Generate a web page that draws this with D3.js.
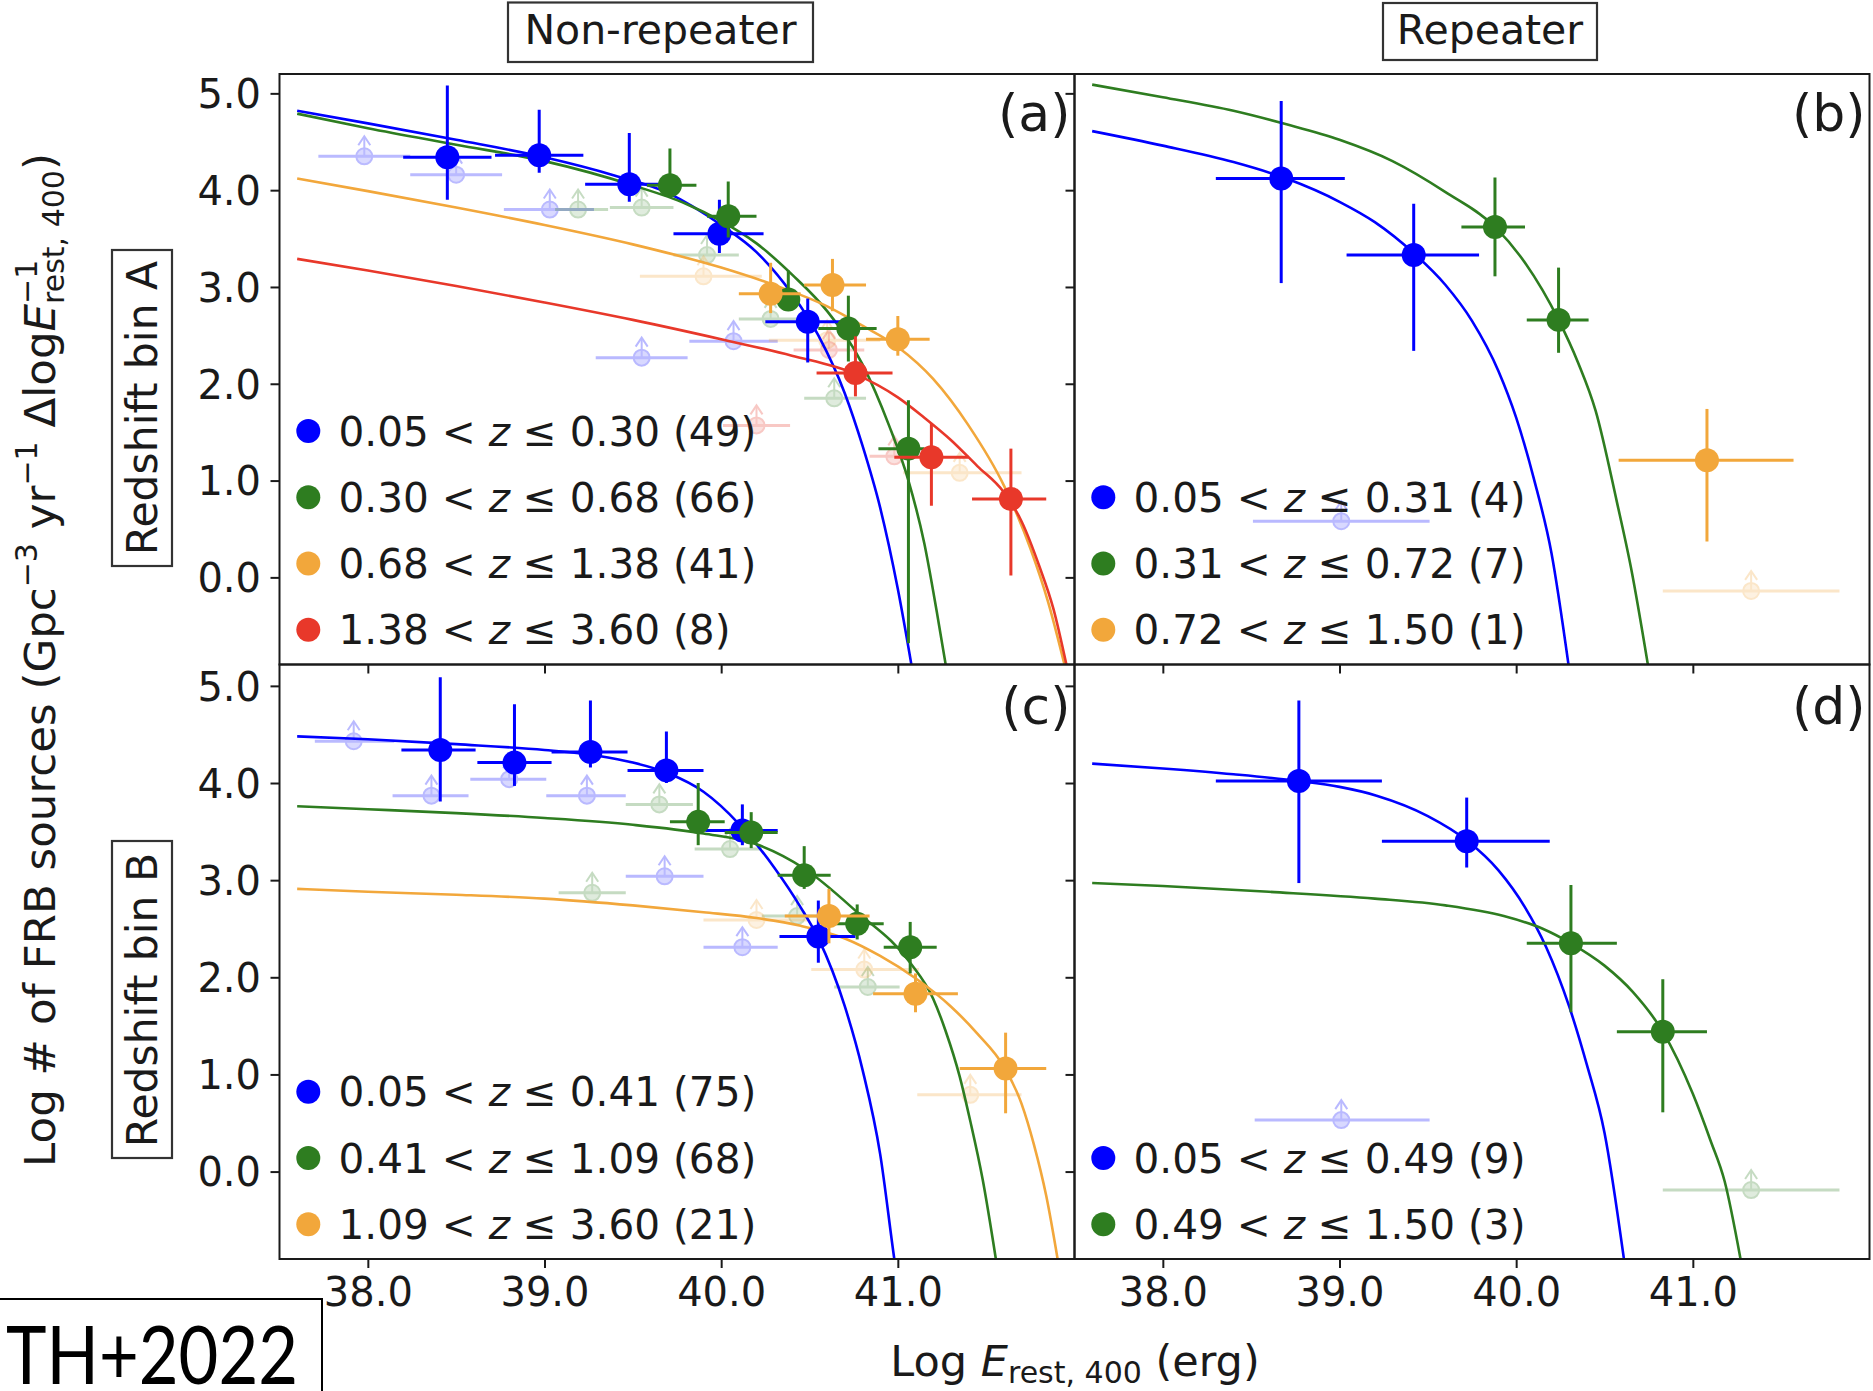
<!DOCTYPE html>
<html>
<head>
<meta charset="utf-8">
<script src="https://cdn.jsdelivr.net/npm/d3@7"></script>
<style>
  html, body { margin: 0; padding: 0; background: #fff; }
  svg { display: block; font-family: "DejaVu Sans", sans-serif; }
  text { white-space: pre; }
</style>
</head>
<body>
<svg id="fig" width="1873" height="1391"></svg>
<script>
// ---------------- axes ----------------
const xTicks = [38, 39, 40, 41];
const yTicks = [0, 1, 2, 3, 4, 5];
const xDomain = [37.5, 42.0];
const yDomainTop = [-0.9, 5.2];
const yDomainBottom = [-0.9, 5.22];

const columnTitles = ["Non-repeater", "Repeater"];
const rowTitles = ["Redshift bin A", "Redshift bin B"];
const panelLetters = ["(a)", "(b)", "(c)", "(d)"];

// ---------------- legend bins: [z low, z high, number of sources] ----------------
const aBins = [["0.05", "0.30", 49], ["0.30", "0.68", 66], ["0.68", "1.38", 41], ["1.38", "3.60", 8]];
const bBins = [["0.05", "0.31", 4], ["0.31", "0.72", 7], ["0.72", "1.50", 1]];
const cBins = [["0.05", "0.41", 75], ["0.41", "1.09", 68], ["1.09", "3.60", 21]];
const dBins = [["0.05", "0.49", 9], ["0.49", "1.50", 3]];

// ---------------- measured points: [logE, logN, logE low, logE high, logN low, logN high] ----------------
const aBluePts = [
  [38.45, 4.34, 38.20, 38.70, 3.90, 5.08],
  [38.97, 4.36, 38.72, 39.22, 4.18, 4.83],
  [39.48, 4.06, 39.23, 39.69, 3.88, 4.59],
  [39.99, 3.55, 39.73, 40.24, 3.35, 3.90],
  [40.49, 2.64, 40.25, 40.75, 2.22, 2.88]
];
const aGreenPts = [
  [39.71, 4.05, 39.58, 39.86, 3.92, 4.43],
  [40.04, 3.73, 39.92, 40.20, 3.51, 4.09],
  [40.38, 2.87, 40.33, 40.43, 2.77, 3.17],
  [40.72, 2.57, 40.55, 40.88, 2.23, 2.91],
  [41.06, 1.33, 40.89, 41.15, -0.68, 1.83]
];
const aOrangePts = [
  [40.28, 2.93, 40.10, 40.45, 2.73, 3.25],
  [40.63, 3.02, 40.47, 40.82, 2.75, 3.29],
  [41.00, 2.46, 40.82, 41.18, 2.29, 2.70]
];
const aRedPts = [
  [40.76, 2.11, 40.54, 40.97, 1.87, 2.49],
  [41.19, 1.24, 40.98, 41.40, 0.74, 1.59],
  [41.64, 0.81, 41.42, 41.84, 0.02, 1.33]
];
const bBluePts = [
  [38.67, 4.12, 38.30, 39.03, 3.04, 4.92],
  [39.42, 3.33, 39.04, 39.79, 2.34, 3.86]
];
const bGreenPts = [
  [39.88, 3.62, 39.69, 40.05, 3.11, 4.13],
  [40.24, 2.66, 40.06, 40.41, 2.32, 3.20]
];
const bOrangePts = [
  [41.08, 1.21, 40.58, 41.57, 0.37, 1.74]
];
const cBluePts = [
  [38.41, 4.34, 38.19, 38.61, 3.81, 5.09],
  [38.83, 4.21, 38.62, 39.04, 3.97, 4.81],
  [39.26, 4.32, 39.04, 39.47, 4.16, 4.85],
  [39.69, 4.13, 39.47, 39.90, 4.00, 4.53],
  [40.12, 3.51, 39.91, 40.32, 3.36, 3.78],
  [40.55, 2.42, 40.33, 40.76, 2.15, 2.79]
];
const cGreenPts = [
  [39.87, 3.60, 39.71, 40.02, 3.36, 4.00],
  [40.17, 3.49, 40.02, 40.32, 3.33, 3.70],
  [40.47, 3.05, 40.32, 40.62, 2.91, 3.35],
  [40.77, 2.55, 40.62, 40.92, 2.39, 2.75],
  [41.07, 2.31, 40.92, 41.22, 2.04, 2.57]
];
const cOrangePts = [
  [40.61, 2.63, 40.36, 40.84, 2.35, 2.91],
  [41.10, 1.83, 40.86, 41.34, 1.64, 2.04],
  [41.61, 1.06, 41.35, 41.84, 0.60, 1.43]
];
const dBluePts = [
  [38.77, 4.02, 38.30, 39.24, 2.97, 4.85],
  [39.72, 3.40, 39.24, 40.19, 3.13, 3.85]
];
const dGreenPts = [
  [40.31, 2.35, 40.06, 40.57, 1.64, 2.95],
  [40.83, 1.44, 40.57, 41.08, 0.61, 1.98]
];

// ---------------- lower limits: [logE, logN, logE low, logE high] ----------------
const aBlueLim = [
  [37.98, 4.35, 37.72, 38.24],
  [38.50, 4.16, 38.24, 38.76],
  [39.03, 3.80, 38.77, 39.28],
  [39.55, 2.27, 39.29, 39.81],
  [40.07, 2.44, 39.82, 40.32]
];
const aGreenLim = [
  [39.19, 3.80, 39.06, 39.36],
  [39.55, 3.82, 39.37, 39.73],
  [39.92, 3.33, 39.73, 40.10],
  [40.28, 2.67, 40.10, 40.47],
  [40.64, 1.85, 40.47, 40.82]
];
const aOrangeLim = [
  [39.90, 3.11, 39.54, 40.23],
  [40.60, 2.45, 40.27, 40.90],
  [41.35, 1.08, 41.03, 41.70]
];
const aRedLim = [
  [40.20, 1.57, 40.01, 40.39],
  [40.61, 2.35, 40.41, 40.81],
  [40.98, 1.25, 40.84, 41.13]
];
const bBlueLim = [[39.01, 0.58, 38.51, 39.51]];
const bOrangeLim = [[41.33, -0.14, 40.83, 41.83]];
const cBlueLim = [
  [37.92, 4.43, 37.70, 38.15],
  [38.36, 3.87, 38.14, 38.57],
  [38.80, 4.04, 38.58, 39.01],
  [39.24, 3.87, 39.01, 39.46],
  [39.68, 3.04, 39.46, 39.90],
  [40.12, 2.31, 39.90, 40.32]
];
const cGreenLim = [
  [39.27, 2.87, 39.08, 39.46],
  [39.65, 3.78, 39.46, 39.84],
  [40.05, 3.32, 39.85, 40.23],
  [40.43, 2.63, 40.23, 40.61],
  [40.83, 1.90, 40.64, 41.01]
];
const cOrangeLim = [
  [40.20, 2.59, 39.90, 40.49],
  [40.81, 2.08, 40.51, 41.12],
  [41.41, 0.79, 41.11, 41.70]
];
const dBlueLim = [[39.01, 0.53, 38.52, 39.51]];
const dGreenLim = [[41.33, -0.19, 40.83, 41.83]];

// ---------------- best-fit energy functions: [logE, logN] ----------------
const aBlueFit = [[37.6,4.82],[38.0,4.69],[38.5,4.52],[39.0,4.34],[39.4,4.15],[39.7,3.97],[40.0,3.64],[40.2,3.36],[40.4,2.93],[40.55,2.50],[40.7,1.90],[40.8,1.36],[40.9,0.72],[41.0,-0.12],[41.1,-1.15]];
const aGreenFit = [[37.6,4.79],[38.0,4.64],[38.5,4.47],[39.0,4.30],[39.5,4.05],[39.8,3.86],[40.0,3.68],[40.2,3.45],[40.4,3.13],[40.6,2.75],[40.8,2.20],[40.95,1.57],[41.06,1.0],[41.15,0.35],[41.22,-0.35],[41.28,-1.0]];
const aOrangeFit = [[37.6,4.12],[38.0,3.99],[38.5,3.82],[39.0,3.64],[39.5,3.44],[40.0,3.20],[40.3,3.02],[40.6,2.80],[40.8,2.60],[41.0,2.38],[41.2,2.05],[41.4,1.57],[41.6,0.95],[41.75,0.30],[41.85,-0.25],[41.95,-0.95]];
const aRedFit = [[37.6,3.29],[38.0,3.17],[38.5,3.01],[39.0,2.84],[39.5,2.66],[40.0,2.46],[40.4,2.29],[40.76,2.10],[41.0,1.86],[41.15,1.65],[41.3,1.42],[41.45,1.15],[41.6,0.88],[41.7,0.58],[41.8,0.12],[41.88,-0.32],[41.96,-0.95]];
const bBlueFit = [[37.6,4.61],[38.0,4.46],[38.4,4.29],[38.7,4.12],[39.0,3.88],[39.2,3.67],[39.42,3.35],[39.6,3.02],[39.75,2.65],[39.9,2.13],[40.0,1.65],[40.1,1.02],[40.2,0.25],[40.3,-0.95]];
const bGreenFit = [[37.6,5.09],[38.0,4.96],[38.4,4.82],[38.7,4.68],[39.0,4.52],[39.3,4.30],[39.6,3.98],[39.88,3.62],[40.05,3.25],[40.24,2.66],[40.35,2.22],[40.45,1.72],[40.57,0.78],[40.65,0.10],[40.75,-0.95]];
const cBlueFit = [[37.6,4.48],[38.0,4.45],[38.5,4.40],[39.0,4.34],[39.3,4.28],[39.5,4.21],[39.7,4.10],[39.9,3.91],[40.1,3.58],[40.3,3.13],[40.45,2.72],[40.55,2.40],[40.7,1.70],[40.8,1.05],[40.9,0.18],[40.98,-0.9],[41.02,-1.4]];
const cGreenFit = [[37.6,3.76],[38.0,3.73],[38.5,3.69],[39.0,3.64],[39.5,3.57],[39.9,3.48],[40.2,3.37],[40.47,3.12],[40.77,2.67],[41.07,2.15],[41.2,1.78],[41.27,1.45],[41.35,0.98],[41.41,0.52],[41.48,-0.08],[41.56,-0.96]];
const cOrangeFit = [[37.6,2.91],[38.0,2.88],[38.5,2.85],[39.0,2.81],[39.5,2.74],[39.9,2.67],[40.2,2.61],[40.45,2.53],[40.7,2.40],[40.9,2.22],[41.1,1.99],[41.3,1.70],[41.45,1.42],[41.6,1.08],[41.7,0.70],[41.77,0.28],[41.84,-0.25],[41.91,-0.96]];
const dBlueFit = [[37.6,4.20],[38.0,4.15],[38.4,4.09],[38.77,4.02],[39.0,3.96],[39.21,3.87],[39.5,3.66],[39.72,3.41],[39.9,3.10],[40.05,2.72],[40.17,2.31],[40.3,1.70],[40.4,1.10],[40.5,0.40],[40.61,-0.9]];
const dGreenFit = [[37.6,2.97],[38.0,2.94],[38.6,2.88],[39.2,2.81],[39.6,2.74],[39.93,2.63],[40.15,2.50],[40.31,2.35],[40.5,2.12],[40.66,1.85],[40.83,1.44],[41.0,0.80],[41.1,0.32],[41.18,-0.10],[41.27,-0.9]];

// ---------------- styling ----------------
const COL = { blue: "#0000ff", green: "#2e7d20", orange: "#f2a73b", red: "#e8382a" };
const INK = "#1a1a1a";
const FS_TICK = 40, FS_LEG = 40.6, FS_LAB = 43.5;

const box = { left: 279.5, mid: 1074.5, right: 1869.5, top: 74, midY: 664.5, bottom: 1259 };

const panels = [
  { id: "a", x0: box.left, x1: box.mid, y0: box.top, y1: box.midY, yDom: yDomainTop,
    letter: panelLetters[0], letterDy: 56.5, yLabels: true, xLabels: false, bins: aBins,
    series: [
      { c: COL.blue, pts: aBluePts, lim: aBlueLim, fit: aBlueFit },
      { c: COL.green, pts: aGreenPts, lim: aGreenLim, fit: aGreenFit },
      { c: COL.orange, pts: aOrangePts, lim: aOrangeLim, fit: aOrangeFit },
      { c: COL.red, pts: aRedPts, lim: aRedLim, fit: aRedFit }
    ] },
  { id: "b", x0: box.mid, x1: box.right, y0: box.top, y1: box.midY, yDom: yDomainTop,
    letter: panelLetters[1], letterDy: 56.5, yLabels: false, xLabels: false, bins: bBins,
    series: [
      { c: COL.blue, pts: bBluePts, lim: bBlueLim, fit: bBlueFit },
      { c: COL.green, pts: bGreenPts, lim: [], fit: bGreenFit },
      { c: COL.orange, pts: bOrangePts, lim: bOrangeLim, fit: null }
    ] },
  { id: "c", x0: box.left, x1: box.mid, y0: box.midY, y1: box.bottom, yDom: yDomainBottom,
    letter: panelLetters[2], letterDy: 59, yLabels: true, xLabels: true, bins: cBins,
    series: [
      { c: COL.blue, pts: cBluePts, lim: cBlueLim, fit: cBlueFit },
      { c: COL.green, pts: cGreenPts, lim: cGreenLim, fit: cGreenFit },
      { c: COL.orange, pts: cOrangePts, lim: cOrangeLim, fit: cOrangeFit }
    ] },
  { id: "d", x0: box.mid, x1: box.right, y0: box.midY, y1: box.bottom, yDom: yDomainBottom,
    letter: panelLetters[3], letterDy: 59, yLabels: false, xLabels: true, bins: dBins,
    series: [
      { c: COL.blue, pts: dBluePts, lim: dBlueLim, fit: dBlueFit },
      { c: COL.green, pts: dGreenPts, lim: dGreenLim, fit: dGreenFit }
    ] }
];

const svg = d3.select("#fig");
const defs = svg.append("defs");

panels.forEach(p => {
  const x = d3.scaleLinear().domain(xDomain).range([p.x0, p.x1]);
  const y = d3.scaleLinear().domain(p.yDom).range([p.y1, p.y0]);
  const g = svg.append("g").attr("class", "panel-" + p.id);

  const clipId = "clip-" + p.id;
  defs.append("clipPath").attr("id", clipId)
    .append("rect").attr("x", p.x0).attr("y", p.y0)
    .attr("width", p.x1 - p.x0).attr("height", p.y1 - p.y0);
  const plot = g.append("g").attr("clip-path", `url(#${clipId})`);

  // lower limits (faint, with upward arrows)
  p.series.forEach(s => {
    const lg = plot.append("g").attr("opacity", 0.27);
    s.lim.forEach(d => {
      const cx = x(d[0]), cy = y(d[1]);
      lg.append("line").attr("x1", x(d[2])).attr("x2", x(d[3]))
        .attr("y1", cy).attr("y2", cy).attr("stroke", s.c).attr("stroke-width", 3);
      lg.append("line").attr("x1", cx).attr("x2", cx)
        .attr("y1", cy).attr("y2", cy - 19).attr("stroke", s.c).attr("stroke-width", 2);
      lg.append("polyline")
        .attr("points", `${cx - 6},${cy - 11} ${cx},${cy - 20} ${cx + 6},${cy - 11}`)
        .attr("fill", "none").attr("stroke", s.c).attr("stroke-width", 2);
      lg.append("circle").attr("cx", cx).attr("cy", cy).attr("r", 8)
        .attr("fill", s.c).attr("fill-opacity", 0.55)
        .attr("stroke", s.c).attr("stroke-width", 2);
    });
  });

  // best-fit curves
  const line = d3.line().x(d => x(d[0])).y(d => y(d[1])).curve(d3.curveMonotoneX);
  p.series.forEach(s => {
    if (!s.fit) return;
    plot.append("path").datum(s.fit).attr("d", line)
      .attr("fill", "none").attr("stroke", s.c).attr("stroke-width", 2.6);
  });

  // measured points with error bars
  p.series.forEach(s => {
    const pg = plot.append("g");
    s.pts.forEach(d => {
      const cx = x(d[0]), cy = y(d[1]);
      pg.append("line").attr("x1", x(d[2])).attr("x2", x(d[3]))
        .attr("y1", cy).attr("y2", cy).attr("stroke", s.c).attr("stroke-width", 3);
      pg.append("line").attr("x1", cx).attr("x2", cx)
        .attr("y1", y(d[4])).attr("y2", y(d[5])).attr("stroke", s.c).attr("stroke-width", 3);
      pg.append("circle").attr("cx", cx).attr("cy", cy).attr("r", 12).attr("fill", s.c);
    });
  });

  // axes
  const yAxis = d3.axisLeft(y).tickValues(yTicks).tickSize(9).tickPadding(9.5)
    .tickFormat(p.yLabels ? d3.format(".1f") : () => "");
  const ya = g.append("g").attr("transform", `translate(${p.x0},0)`).call(yAxis);
  const xAxis = d3.axisBottom(x).tickValues(xTicks).tickSize(9).tickPadding(10)
    .tickFormat(p.xLabels ? d3.format(".1f") : () => "");
  const xa = g.append("g").attr("transform", `translate(0,${p.y1})`).call(xAxis);
  [ya, xa].forEach(a => {
    a.select(".domain").remove();
    a.selectAll(".tick line").attr("stroke", INK).attr("stroke-width", 2);
    a.selectAll(".tick text").attr("fill", INK)
      .style("font-family", "DejaVu Sans").style("font-size", FS_TICK + "px");
  });
  ya.selectAll(".tick text").attr("dy", "0.36em");

  // frame
  g.append("rect").attr("x", p.x0).attr("y", p.y0)
    .attr("width", p.x1 - p.x0).attr("height", p.y1 - p.y0)
    .attr("fill", "none").attr("stroke", INK).attr("stroke-width", 2);

  // panel letter
  g.append("text").attr("x", p.x1 - 4).attr("y", p.y0 + p.letterDy)
    .attr("text-anchor", "end").attr("fill", INK)
    .style("font-size", "52px").text(p.letter);

  // legend (bottom-left, rows stacked upward)
  const n = p.bins.length;
  p.bins.forEach((b, i) => {
    const cy = p.y1 - 34.8 - (n - 1 - i) * 66.2;
    g.append("circle").attr("cx", p.x0 + 28.8).attr("cy", cy).attr("r", 12)
      .attr("fill", p.series[i].c);
    const t = g.append("text").attr("x", p.x0 + 59).attr("y", cy + 14.6)
      .attr("fill", INK).style("font-size", FS_LEG + "px");
    t.append("tspan").text(`${b[0]} < `);
    t.append("tspan").style("font-style", "italic").text("z");
    t.append("tspan").text(` ≤ ${b[1]} (${b[2]})`);
  });
});

// column titles in boxes
function boxedTitle(cx, baseline, label, bx0, by0, bx1, by1) {
  svg.append("rect").attr("x", bx0).attr("y", by0)
    .attr("width", bx1 - bx0).attr("height", by1 - by0)
    .attr("fill", "#fff").attr("stroke", "#333").attr("stroke-width", 2.2);
  svg.append("text").attr("x", cx).attr("y", baseline).attr("text-anchor", "middle")
    .attr("fill", INK).style("font-size", "41px").text(label);
}
boxedTitle(660.5, 43.5, columnTitles[0], 508, 2.5, 813, 62);
boxedTitle(1490, 43.5, columnTitles[1], 1383, 3, 1597, 60);

// row titles (rotated, in boxes)
function rowTitle(cy, label, by0, by1) {
  svg.append("rect").attr("x", 112).attr("y", by0).attr("width", 60).attr("height", by1 - by0)
    .attr("fill", "#fff").attr("stroke", "#333").attr("stroke-width", 2.2);
  svg.append("text").attr("transform", `translate(157,${cy}) rotate(-90)`)
    .attr("text-anchor", "middle").attr("fill", INK).style("font-size", "42.5px").text(label);
}
rowTitle(408, rowTitles[0], 250, 566);
rowTitle(1000, rowTitles[1], 841, 1158);

// y-axis label with super/subscripts
const yl = svg.append("text").attr("transform", "translate(55,660) rotate(-90)")
  .attr("text-anchor", "middle").attr("fill", INK).style("font-size", FS_LAB + "px");
yl.append("tspan").text("Log # of FRB sources (Gpc");
yl.append("tspan").attr("dy", -18).style("font-size", "30px").text("−3");
yl.append("tspan").attr("dy", 18).text(" yr");
yl.append("tspan").attr("dy", -18).style("font-size", "30px").text("−1");
yl.append("tspan").attr("dy", 18).text(" Δlog");
yl.append("tspan").style("font-style", "italic").text("E");
const ySup = yl.append("tspan").attr("dy", -18).style("font-size", "30px").text("−1");
const ySub = yl.append("tspan").attr("dy", 27).style("font-size", "30px").text("rest, 400");
yl.append("tspan").attr("dy", -9).text(")");
ySub.attr("dx", -ySup.node().getComputedTextLength());

// x-axis label
const xl = svg.append("text").attr("transform", "translate(1075,1376)")
  .attr("text-anchor", "middle").attr("fill", INK).style("font-size", "43px");
xl.append("tspan").text("Log ");
xl.append("tspan").style("font-style", "italic").text("E");
xl.append("tspan").attr("dy", 7).style("font-size", "30px").text("rest, 400");
xl.append("tspan").attr("dy", -7).text(" (erg)");

// citation tag, bottom-left corner
svg.append("rect").attr("x", -3).attr("y", 1299).attr("width", 325).attr("height", 100)
  .attr("fill", "#fff").attr("stroke", "#000").attr("stroke-width", 2);
svg.append("text").attr("x", 6).attr("y", 1384)
  .attr("fill", "#000").style("font-family", "Lato, 'Open Sans', sans-serif")
  .style("font-size", "82px").attr("textLength", 292).attr("lengthAdjust", "spacingAndGlyphs")
  .text("TH+2022");
</script>
</body>
</html>
